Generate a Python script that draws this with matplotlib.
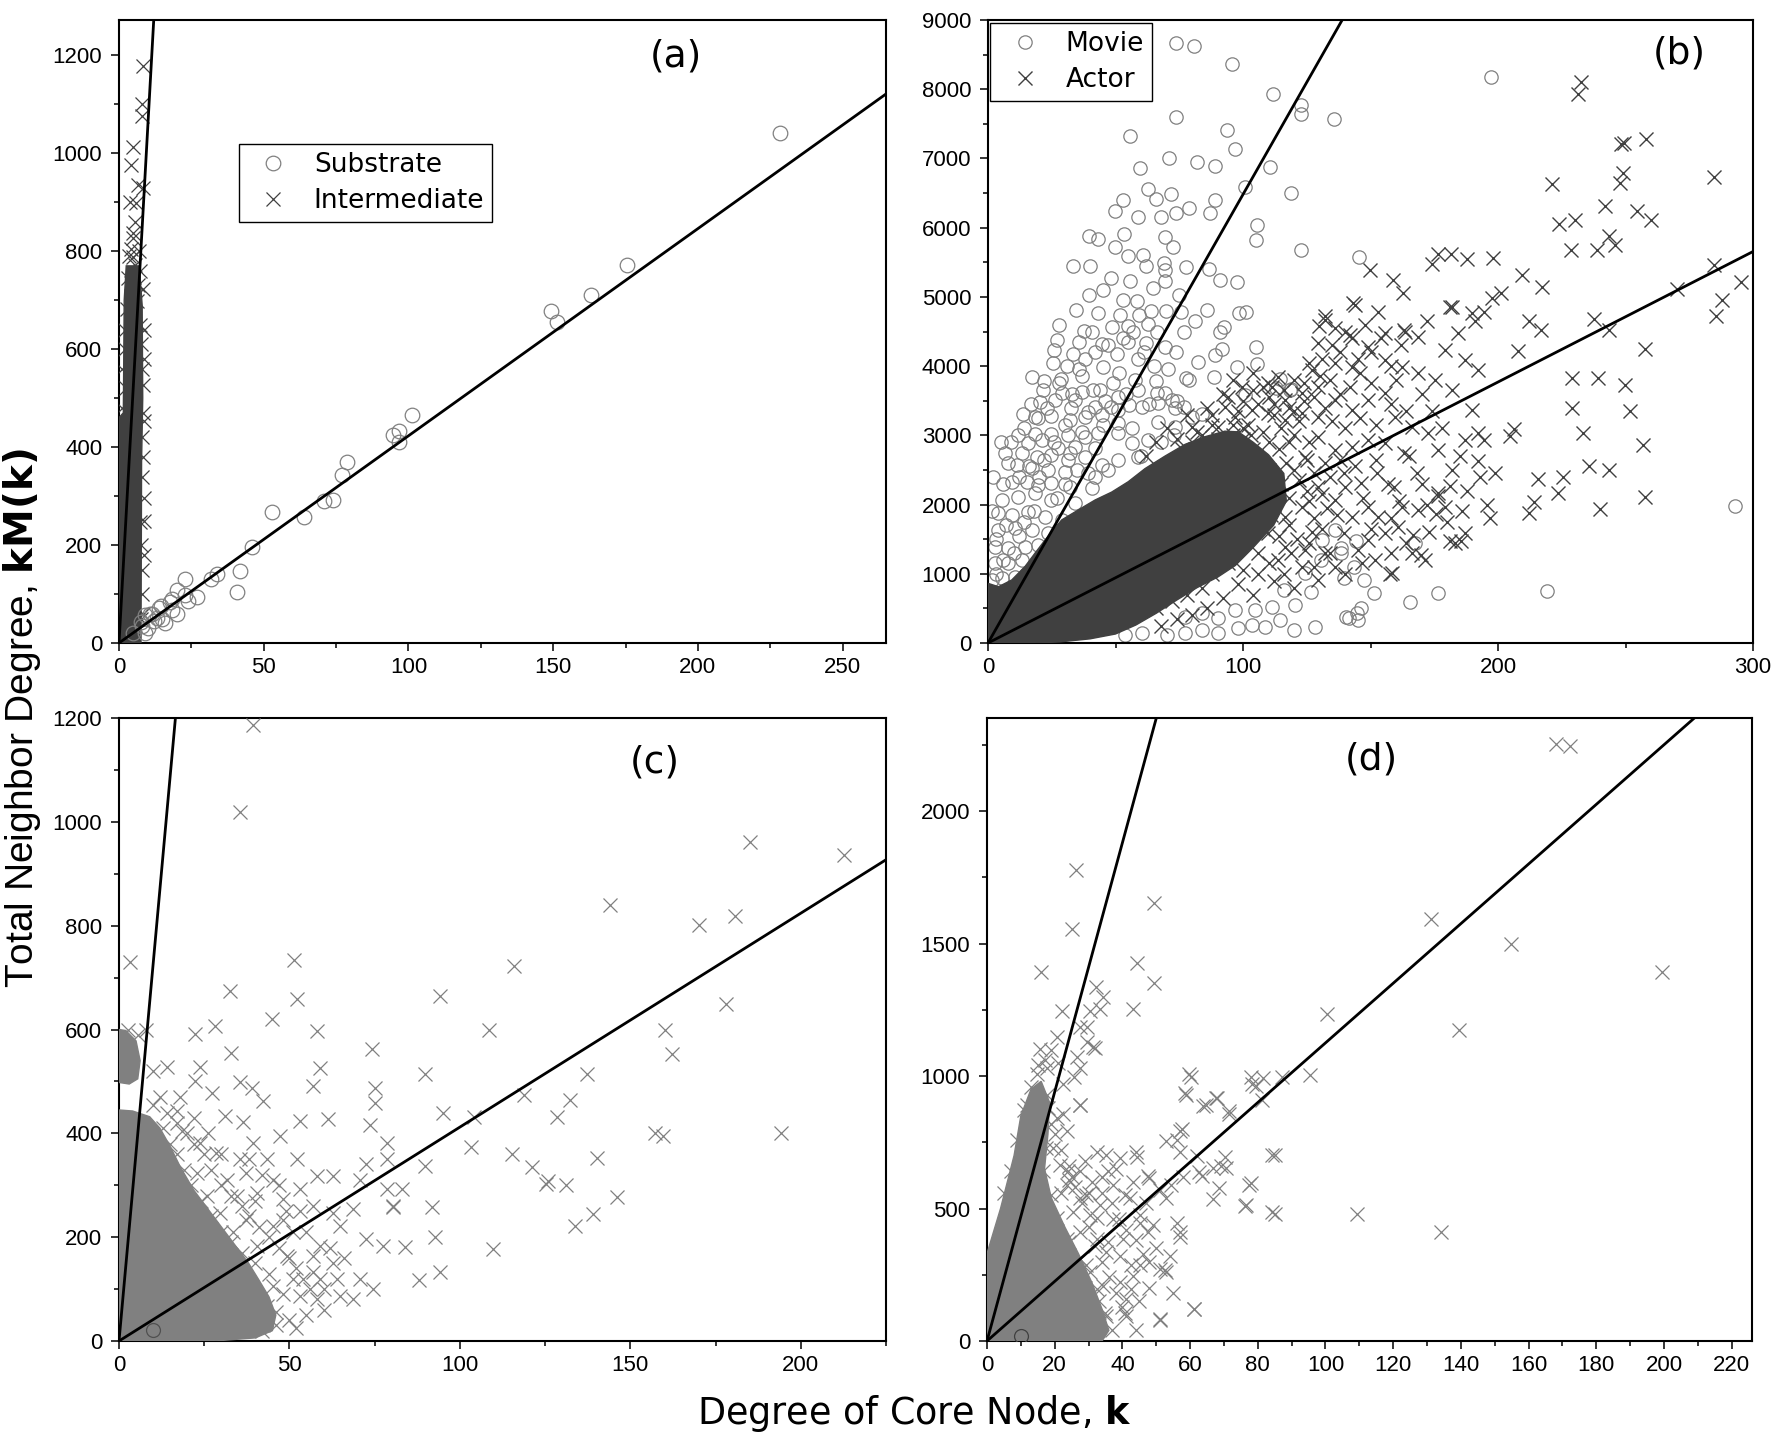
import numpy as np
import matplotlib
matplotlib.use("Agg")
import matplotlib.pyplot as plt
from matplotlib.ticker import MultipleLocator

plt.rcParams['font.family'] = ['Liberation Sans', 'DejaVu Sans']
plt.rcParams['mathtext.fontset'] = 'dejavusans'

# ------------------------------------------------------------------ data
# panel (a)
a_substrate = [(228.3, 1041), (175.5, 771), (163.2, 710), (149.4, 677), (151.4, 656), (101.4, 466),
               (96.8, 433), (94.5, 424), (96.8, 410), (78.7, 370), (76.9, 342), (74.1, 292), (70.9, 289),
               (64.0, 257), (53.0, 267), (45.8, 195), (41.9, 147), (40.9, 104), (33.8, 140), (31.8, 131),
               (22.9, 131), (26.9, 93), (22.7, 98), (18.4, 90), (17.6, 84), (14.4, 76), (11.5, 60),
               (8.9, 57), (7.5, 43), (9.1, 20), (18.4, 67), (5, 20), (8, 35), (12, 45), (15, 50), (20, 60),
               (24, 85), (10, 30), (13, 52), (16, 40), (20, 109), (13.7, 72), (10.8, 60)]
a_inter = [(8.3, 1178), (7.9, 1100), (7.9, 1077), (5.0, 1012), (4.1, 976), (6.7, 936), (8.3, 928),
           (5.8, 899), (4.8, 838), (4.7, 826), (4.1, 805), (4.8, 789), (5.6, 772), (7.3, 760), (6.2, 699),
           (8.3, 723), (2.9, 682), (7.3, 650), (8.3, 527), (8.5, 453), (7.9, 338), (7.3, 248), (8.5, 297),
           (1.5, 437), (0.9, 387), (0.6, 355), (0.6, 207), (3.2, 745), (4.2, 735), (5.2, 748), (6.4, 730),
           (7.6, 610), (8.0, 560), (7.9, 420), (8.2, 380), (7.6, 200), (7.8, 150), (8.1, 100), (7.5, 50),
           (1.0, 480), (2.0, 600), (2.4, 520), (3.6, 790), (6.9, 800), (5.4, 860), (3.8, 900), (2.2, 640),
           (8.6, 640), (8.8, 580), (8.4, 470), (8.7, 250), (8.6, 180), (8.4, 60), (1.2, 560), (0.5, 300)]
a_inter_core_k = [0.0, 0.0, 1.5, 1.8, 2.5, 7.0, 8.0, 8.2, 7.8, 7.6]
a_inter_core_km = [0, 460, 470, 700, 770, 770, 690, 500, 370, 0]
a_fit_slopes = [106.0, 4.23]

# panel (b)
b_movie = [(73.6, 8663), (80.9, 8629), (95.7, 8360), (111.9, 7932), (73.6, 7600), (122.9, 7772),
           (122.9, 7647), (135.8, 7575), (55.7, 7330), (93.9, 7407), (96.7, 7138), (70.9, 7012),
           (81.9, 6945), (88.9, 6897), (59.6, 6868), (110.7, 6882), (100.9, 6593), (118.8, 6506),
           (62.8, 6555), (65.9, 6416), (71.6, 6488), (52.8, 6401), (49.7, 6242), (58.7, 6160),
           (67.7, 6160), (73.6, 6208), (78.7, 6280), (86.9, 6208), (88.9, 6401), (39.7, 5880),
           (43.0, 5832), (49.7, 5726), (53.5, 5904), (69.4, 5870), (72.7, 5726), (105.6, 6039),
           (105.0, 5822), (122.8, 5678), (33.5, 5452), (39.9, 5452), (54.8, 5591), (60.7, 5606),
           (62.1, 5447), (69.0, 5486), (69.5, 5390), (69.5, 5231), (77.7, 5433), (86.8, 5409),
           (91.0, 5240), (97.6, 5216), (145.5, 5572), (48.1, 5274), (55.8, 5226), (64.6, 5130),
           (39.7, 5034), (45.2, 5106), (53.0, 4961), (58.3, 4937), (74.8, 5034), (34.6, 4817),
           (43.3, 4768), (51.8, 4744), (59.2, 4744), (63.8, 4793), (69.8, 4793), (75.8, 4783),
           (81.0, 4648), (85.8, 4817), (98.6, 4764), (101.3, 4783), (27.8, 4595), (37.5, 4514),
           (40.7, 4490), (48.5, 4562), (54.8, 4586), (62.9, 4610), (66.4, 4490), (77.0, 4490),
           (91.0, 4490), (92.7, 4562), (26.9, 4384), (35.8, 4355), (44.6, 4321), (55.0, 4345),
           (61.8, 4336), (69.5, 4273), (73.7, 4201), (105.0, 4283), (26.0, 4235), (33.5, 4177),
           (42.0, 4201), (50.6, 4177), (59.0, 4100), (82.5, 4061), (89.0, 4158), (91.6, 4245),
           (105.4, 4028), (97.6, 3980), (25.6, 4047), (17.1, 3840), (21.9, 3791), (28.5, 3815),
           (35.8, 3960), (45.2, 3984), (51.5, 3902), (57.7, 3806), (65.8, 3791), (70.6, 3960),
           (77.5, 3830), (78.8, 3801), (88.8, 3840), (114.5, 3815), (118.8, 3671), (13.6, 3310),
           (18.4, 3262), (24.8, 3286), (32.6, 3392), (39.4, 3335), (48.2, 3407), (55.2, 3431),
           (63.0, 3455), (69.4, 3614), (74.0, 3503), (83.8, 3310), (100.8, 3585), (11.9, 3000),
           (18.4, 3021), (24.8, 3021), (31.3, 3000),
           (21.7, 3655), (28.9, 3607), (36.7, 3631), (43.9, 3655), (51.1, 3559), (58.9, 3655),
           (66.1, 3607), (20.4, 3487), (26.3, 3511), (34.1, 3511), (41.9, 3415), (51.1, 3366),
           (60.3, 3415), (66.8, 3463), (73.3, 3391), (19.7, 3246), (32.2, 3222), (38.0, 3270),
           (44.6, 3294), (51.1, 3174), (56.3, 3102), (66.8, 3198), (73.3, 3126), (79.9, 3270),
           (38.0, 2981), (43.3, 3029), (51.1, 3029), (56.3, 2885), (62.8, 2933), (15.8, 2885),
           (21.0, 2933), (27.6, 2813), (34.1, 2837), (41.9, 2813), (6.7, 2740), (13.2, 2740),
           (19.1, 2692), (24.9, 2716), (31.5, 2644), (38.0, 2692), (44.6, 2571), (51.1, 2644),
           (58.9, 2692), (11.2, 2571), (17.1, 2523), (23.7, 2499), (30.2, 2475), (39.3, 2451),
           (47.2, 2499), (9.3, 2331), (15.2, 2331), (19.7, 2283), (24.9, 2307), (32.2, 2259),
           (40.7, 2235), (5.4, 2066), (11.9, 2114), (18.4, 2162), (24.9, 2066), (34.1, 2018),
           (4.1, 1874), (9.3, 1850), (15.8, 1898), (22.3, 1826), (28.9, 1778), (4.1, 1633),
           (10.6, 1657), (17.1, 1633), (23.7, 1585), (2.7, 1393), (8.0, 1368), (14.5, 1393),
           (19.7, 1417), (2.7, 1152), (8.0, 1152), (13.2, 1200), (1.4, 911), (5.4, 935),
           (10.6, 959), (1.4, 670), (0.7, 477), (72.0, 3511), (76.7, 3415), (68.0, 2900),
           (73.0, 3000), (60.0, 2700), (118.5, 3657), (112.9, 3690),
           (53.7, 116), (60.3, 140), (70.1, 116), (77.3, 140), (83.8, 188), (90.3, 140), (98.2, 212),
           (103.4, 260), (108.6, 236), (77.3, 381), (83.8, 429), (90.3, 357), (96.8, 477),
           (104.7, 477), (111.2, 525), (120.3, 549), (114.7, 333), (119.9, 188), (128.3, 236),
           (116.1, 765), (126.5, 741), (139.5, 934), (151.2, 717), (165.5, 597), (176.6, 717),
           (141.5, 357), (144.8, 429), (146.1, 501), (167.5, 1440), (130.6, 1200), (138.4, 1296),
           (143.6, 1104), (147.5, 911), (124.3, 1007), (130.9, 1489), (136.1, 1633), (197.3, 8170),
           (292.9, 1985), (219.4, 757), (145.0, 338), (140.5, 372), (144.5, 1480), (138.3, 1367),
           (3, 1000), (6, 1200), (10, 1300), (12, 1550), (7, 1700), (14, 1750), (18, 1900), (6, 2300),
           (12, 2400), (8, 2600), (16, 2550), (20, 2400), (22, 2650), (26, 2900), (30, 3150),
           (14, 3100), (9, 2900), (17, 3450), (23, 3400), (28, 3750), (33, 3600), (37, 3850),
           (41, 3650), (46, 3500), (49, 3750), (54, 3600), (31, 4000), (38, 4100), (47, 4300),
           (53, 4400), (57, 4500), (61, 4200), (65, 4000), (30, 2300), (35, 2500), (42, 2400),
           (27, 2100), (32, 2750), (37, 3050), (45, 3150), (29, 1650), (26, 1400), (20, 1150),
           (15, 1000), (9, 700), (4, 550), (3, 1500), (1.5, 1900), (2, 2400), (5, 2900)]
b_actor = [(232.7, 8104), (231.2, 7938), (248.3, 7208), (249.6, 7228), (257.9, 7274), (284.9, 6730),
           (221.2, 6630), (249.0, 6790), (247.9, 6644), (241.9, 6312), (254.6, 6245), (260.1, 6113),
           (224.1, 6046), (230.1, 6113), (228.5, 5681), (239.0, 5681), (243.4, 5880), (245.7, 5748),
           (217.4, 5150), (209.4, 5316), (198.2, 5562), (188.0, 5549), (181.7, 5615), (176.4, 5615),
           (174.2, 5482), (284.9, 5462), (295.3, 5217), (288.0, 4951), (285.6, 4719), (270.2, 5117),
           (237.6, 4686), (243.4, 4520), (257.5, 4254), (212.2, 4653), (216.7, 4520), (207.8, 4221),
           (197.8, 4984), (201.1, 5051), (194.4, 4785), (191.1, 4653), (181.1, 4852), (162.8, 5051),
           (158.8, 5250), (149.9, 5383), (143.2, 4918), (132.1, 4719), (129.8, 4586), (142.1, 4453),
           (163.3, 4520), (172.2, 4653), (229.0, 3823), (239.4, 3823), (249.7, 3723), (251.7, 3358),
           (229.2, 3391), (233.4, 3027), (235.6, 2562), (243.4, 2496), (256.8, 2861), (257.5, 2111),
           (240.1, 1931), (225.6, 2396), (215.6, 2363), (212.2, 1878), (214.0, 2031), (223.4, 2164),
           (195.5, 1998), (196.7, 1799), (206.2, 3093), (204.9, 2993), (192.2, 2628), (194.4, 2927),
           (198.9, 2462), (176.6, 2130), (181.1, 2263), (185.5, 1467), (181.1, 1467), (175.5, 1865),
           (169.9, 1268), (157.7, 1002), (166.6, 1566),
           (143.9, 4883), (153.0, 4787), (132.2, 4666), (136.1, 4546), (129.5, 4329), (142.6, 4402),
           (149.2, 4281), (155.7, 4474), (163.5, 4498), (168.8, 4426), (181.8, 4859), (184.4, 4474),
           (189.7, 4763), (179.2, 4233), (187.0, 4089), (192.3, 3944), (136.1, 4041), (142.6, 3992),
           (155.7, 4089), (162.2, 3992), (168.8, 3896), (175.3, 3800), (181.8, 3655), (189.7, 3366),
           (192.3, 3029), (187.0, 2933), (111.2, 3703), (116.4, 3511), (123.0, 3607), (129.5, 3703),
           (103.4, 3366), (109.9, 3318), (116.4, 3222), (123.0, 3318), (129.5, 3270), (136.1, 3511),
           (142.6, 3366), (149.2, 3511), (155.7, 3607), (159.6, 3270), (166.2, 3126), (172.7, 3029),
           (176.6, 2789), (163.0, 2740), (155.7, 2885), (149.2, 2933), (142.6, 2837), (136.1, 2789),
           (129.5, 2981), (124.3, 2692), (139.5, 2451), (146.1, 2307), (152.6, 2451), (159.1, 2259),
           (168.3, 2451), (176.6, 2162), (179.2, 1970), (168.8, 1922), (162.2, 1970), (153.0, 1826),
           (149.2, 1970), (142.6, 1826), (136.1, 2066), (129.5, 2259), (123.0, 1970), (116.4, 1826),
           (109.9, 1585), (116.4, 1393), (124.3, 1345), (132.2, 1296), (139.5, 1585), (149.2, 1489),
           (155.7, 1585), (151.8, 1200), (158.3, 1007), (160.9, 1681), (166.2, 1296), (183.1, 1441),
           (187.0, 1585), (171.4, 1200), (146.5, 1152), (136.1, 1104), (129.5, 911), (123.0, 1104),
           (113.9, 1200), (106.0, 1296), (96.9, 1874), (93.0, 2259), (90.3, 2644), (83.8, 2837),
           (79.9, 3126), (90.3, 3126), (96.9, 3270), (99.5, 3703), (93.0, 3415), (109.9, 3752),
           (113.9, 3848), (105, 2700), (110, 2500), (115, 2300), (120, 2500), (125, 2200), (112, 2000),
           (118, 1700), (127, 1600), (106, 2200), (114, 2800), (120, 3000), (126, 2900), (132, 2600),
           (134, 2400), (110, 2900), (103, 3000), (100, 3100), (118, 2100), (128, 1800), (121, 1500),
           (62, 2700), (66, 2900), (70, 3100), (74, 2950), (78, 3300), (82, 3050), (86, 3400),
           (88, 3150), (94, 3550), (98, 3350), (102, 3150), (106, 3450), (108, 3050), (112, 3300),
           (96, 3000), (92, 2850), (100, 2950), (104, 2800), (115, 3100), (118, 2900), (122, 3200),
           (125, 2650), (128, 2450), (131, 2150), (133, 1950), (126, 2050), (122, 2350), (117, 2600),
           (113, 2150), (111, 1850), (108, 1650), (114, 1550), (119, 1300), (126, 1450), (131, 1650),
           (137, 1850), (140, 2250), (138, 2650), (144, 2550), (147, 2100), (152, 2650), (157, 2300),
           (161, 2050), (165, 2700), (170, 2300), (158, 1800), (150, 1650), (145, 1350), (140, 1000),
           (134, 1300), (128, 1100), (120, 800), (112, 900), (104, 700), (98, 850), (92, 650),
           (86, 500), (80, 400), (74, 350), (68, 250), (66, 500), (72, 600), (78, 700), (84, 800),
           (88, 1000), (94, 1150), (100, 1050), (106, 1000), (110, 1150), (116, 1000), (118, 3400),
           (124, 3500), (130, 3850), (135, 3200), (140, 3100), (146, 3250), (152, 3150), (158, 3450),
           (164, 3350), (170, 3600), (160, 3800), (150, 3750), (145, 4100), (138, 4200), (126, 4050),
           (120, 3800), (110, 3550), (104, 3650), (174, 3350), (178, 3100), (185, 2700), (182, 2500),
           (188, 2200), (193, 2400), (186, 1900), (180, 1750), (173, 1600), (172, 2000), (164, 1450),
           (158, 1300),
           (88, 3300), (92, 3600), (96, 3800), (100, 3500), (104, 3900), (108, 3700), (112, 3450),
           (116, 3650), (120, 3350), (124, 3750), (128, 3550), (132, 3400), (127, 3950), (134, 3800),
           (138, 3600), (142, 3700), (146, 3900), (150, 4200), (154, 4400), (158, 4000), (162, 4300),
           (148, 4600), (140, 4500), (135, 4300), (131, 4100), (96, 3150), (90, 2950), (84, 3000),
           (80, 2900), (76, 2800)]
b_actor_core_k = [0, 0, 4.1, 9.3, 14.5, 18.4, 22.4, 28.9, 35.4, 42.0, 48.5, 55.0, 61.6, 69.4, 77.3,
                  85.1, 92.9, 98.2, 104.0, 110.0, 116.0, 117.0, 112.0, 104.0, 97.0, 90.0, 82.0,
                  74.0, 66.0, 58.0, 50.0, 40.0, 28.0, 18.4]
b_actor_core_km = [0, 862, 813, 910, 1104, 1296, 1489, 1778, 1922, 2066, 2180, 2330, 2520, 2700,
                   2870, 2980, 3060, 3050, 2900, 2720, 2450, 2050, 1700, 1380, 1120, 950, 800,
                   620, 430, 260, 130, 60, 15, 0]
b_fit_slopes = [64.8, 18.85]

# panel (c)
c_cross = [(32.6, 674), (52.1, 658), (45.0, 621), (58.0, 597), (28.2, 607), (22.3, 591), (33.0, 554),
           (74.1, 562), (58.9, 525), (23.8, 527), (14.0, 528), (22.3, 501), (35.5, 498), (38.9, 488),
           (57.0, 491), (75.1, 488), (75.1, 459), (27.2, 478), (42.3, 462), (16.9, 443), (31.1, 433),
           (36.5, 421), (53.1, 424), (61.4, 428), (73.6, 417), (18.4, 404), (23.8, 382), (39.4, 382),
           (47.2, 395), (78.5, 382), (28.6, 363), (35.5, 350), (43.3, 350), (52.1, 350), (58.0, 318),
           (72.6, 340), (78.5, 350), (22.8, 324), (31.6, 311), (37.4, 324), (45.3, 311), (53.1, 292),
           (62.9, 318), (70.7, 311), (78.5, 292), (25.7, 279), (34.5, 279), (40.4, 286), (48.2, 273),
           (57.0, 260), (62.9, 247), (68.7, 254), (80.4, 260), (29.6, 247), (37.4, 234), (45.3, 222),
           (51.1, 209), (58.9, 183), (64.8, 222), (72.6, 196), (77.5, 183), (33.5, 209), (40.4, 183),
           (49.2, 164), (57.0, 164), (62.9, 151), (70.7, 119), (74.6, 100), (64.8, 87), (57.0, 132),
           (51.1, 119), (45.3, 106), (40.4, 80), (36.5, 55), (43.3, 67), (53.1, 87), (68.7, 80),
           (58.9, 119), (48.2, 234), (2.5, 600), (5.5, 590), (8.0, 600), (10.0, 520),
           (39.2, 1186), (35.4, 1018), (3.2, 730), (51.3, 734), (94.1, 665), (116.0, 723), (144.1, 839),
           (170.0, 802), (180.8, 819), (185.0, 962), (212.6, 936), (178.0, 650), (160.1, 600),
           (162.1, 553), (194.1, 400), (157.1, 400), (159.6, 395), (108.4, 600), (89.9, 514),
           (94.9, 440), (137.2, 514), (132.3, 464), (128.6, 432), (118.7, 473), (104.2, 431),
           (103.2, 373), (115.3, 361), (121.2, 336), (125.9, 309), (125.2, 303), (131.1, 300),
           (140.1, 352), (146.1, 277), (139.1, 244), (133.9, 221), (109.8, 177), (83.0, 293),
           (89.9, 338), (80.5, 259), (91.8, 259), (92.8, 200), (83.8, 182), (88.0, 118), (94.1, 132),
           (12, 470), (10, 455), (14, 440), (17, 420), (20, 400), (22, 380), (25, 360), (27, 330),
           (30, 300), (33, 280), (36, 260), (38, 240), (41, 220), (44, 200), (47, 180), (50, 160),
           (52, 140), (54, 120), (56, 100), (58, 80), (60, 60), (55, 50), (50, 40), (46, 30), (42, 20),
           (48, 90), (44, 130), (40, 150), (36, 170), (33, 190), (30, 210), (27, 240), (24, 270),
           (21, 300), (19, 330), (17, 360), (15, 380), (13, 410), (28, 170), (31, 140), (35, 120),
           (39, 100), (42, 60), (46, 55), (52, 25), (60, 100), (64, 120), (62, 180), (66, 160),
           (55, 210), (53, 250), (49, 250), (47, 300), (42, 320), (38, 350), (30, 360), (26, 400),
           (22, 430), (18, 470), (40, 270)]
c_circle = [(10.0, 21)]
c_core_k = [0, 0, 4, 9, 12, 15, 18, 22, 26, 30, 34, 38, 41, 44, 46, 45, 40, 28]
c_core_km = [0, 445, 443, 432, 410, 375, 335, 290, 255, 220, 185, 150, 118, 85, 50, 20, 6, 0]
c_patch_k = [0, 2, 5, 6.2, 5.5, 3, 0]
c_patch_km = [600, 598, 578, 540, 505, 495, 498]
c_fit_slopes = [72.5, 4.12]

# panel (d)
d_cross = [(22.1, 1247), (30.4, 1247), (33.3, 1253), (43.1, 1253), (29.4, 1184), (31.4, 1108),
           (26.5, 1070), (20.6, 1146), (15.7, 1101), (17.6, 1032), (14.7, 1006), (27.5, 1032),
           (22.5, 968), (27.5, 892), (11.8, 892), (17.6, 930), (20.6, 842), (23.5, 791), (19.6, 728),
           (21.6, 665), (32.4, 715), (35.3, 703), (39.2, 690), (44.1, 715), (48.0, 614), (53.0, 753),
           (56.9, 791), (59.8, 1006), (58.8, 930), (64.7, 892), (67.6, 918), (71.6, 867), (78.4, 968),
           (81.4, 994), (56.9, 715), (62.7, 639), (66.7, 652), (70.6, 652), (68.6, 576), (77.5, 589),
           (76.5, 513), (84.3, 487), (84.3, 703), (52.9, 538), (56.9, 411), (49.0, 437), (45.1, 475),
           (42.2, 538), (37.3, 589), (33.3, 513), (30.4, 475), (27.5, 411), (32.4, 386), (37.3, 462),
           (40.2, 386), (45.1, 285), (51.0, 272), (52.9, 259), (35.3, 335), (30.4, 259), (34.3, 209),
           (39.2, 222), (41.2, 158), (41.2, 95), (35.3, 95), (51.0, 82), (61.3, 120), (43.1, 247),
           (27.5, 310), (23.5, 386), (25.5, 487), (27.5, 538), (23.5, 589),
           (76.2, 508), (77.9, 597), (66.9, 534), (63.6, 623), (69.0, 659), (70.3, 695), (57.7, 801),
           (56.0, 757), (54.3, 588), (51.0, 570), (47.6, 623), (44.2, 695), (35.8, 641), (40.9, 552),
           (45.1, 445), (47.6, 410), (52.6, 267), (51.0, 80), (56.0, 445), (56.9, 392), (42.6, 285),
           (42.6, 196), (40.9, 107), (35.0, 107), (32.5, 196), (29.1, 285), (24.1, 374), (20.7, 463),
           (19.0, 552), (16.5, 641), (17.3, 730), (19.0, 819), (22.4, 855), (20.7, 285), (17.3, 196),
           (25.7, 142), (19.0, 107), (29.1, 552), (32.5, 463), (35.8, 374), (39.2, 321), (27.4, 641),
           (24.1, 659), (24.1, 606), (20.7, 107), (14.0, 53), (24.1, 36), (60.2, 997), (58.5, 935),
           (63.9, 887), (67.8, 917), (71.5, 855), (77.9, 997), (79.6, 962), (81.2, 908), (85.1, 703),
           (85.1, 481), (27.4, 890), (25.7, 997), (29.6, 1127), (31.9, 1104), (27.4, 1184),
           (168.2, 2253), (172.1, 2244), (26.2, 1777), (49.3, 1651), (25.2, 1553), (131.2, 1594),
           (154.9, 1500), (199.3, 1393), (16.1, 1393), (44.2, 1428), (49.3, 1350), (32.1, 1336),
           (34.2, 1300), (100.3, 1234), (139.3, 1175), (87.1, 997), (95.5, 1003), (109.2, 481),
           (134.2, 413), (61.1, 119),
           (5, 560), (7, 640), (9, 760), (11, 870), (13, 960), (15, 1040), (17, 1060), (19, 1100),
           (21, 1050), (12, 700), (14, 800), (16, 900), (18, 880), (20, 780), (22, 720), (24, 640),
           (26, 580), (28, 520), (30, 430), (32, 360), (34, 300), (36, 240), (38, 180), (40, 130),
           (33, 150), (29, 200), (26, 260), (23, 330), (20, 400), (18, 470), (22, 560), (25, 620),
           (29, 680), (31, 600), (34, 560), (37, 520), (39, 460), (41, 420), (44, 380), (46, 330),
           (48, 300), (50, 350), (54, 320), (58, 620), (62, 700), (47, 520), (43, 600), (38, 650),
           (34, 620), (30, 560), (28, 170), (31, 90), (27, 60), (33, 60), (37, 40), (45, 150),
           (48, 200), (55, 180), (44, 40), (21, 130)]
d_circle = [(10.0, 19)]
d_core_k = [0, 0, 4, 8, 10, 13, 16, 18.5, 18, 17, 19, 23, 27, 31, 34, 36, 34]
d_core_km = [0, 330, 500, 700, 850, 950, 980, 900, 780, 650, 540, 430, 330, 220, 120, 40, 0]
d_fit_slopes = [47.0, 11.25]

# ------------------------------------------------------------------ style
DARK = '#404040'
GRAY = '#808080'
W, H = 1776, 1440

fig = plt.figure(figsize=(W / 100, H / 100), dpi=100)


def add_axes_px(left, top, right, bottom):
    return fig.add_axes([left / W, 1 - bottom / H, (right - left) / W, (bottom - top) / H])


def style(ax, xlim, ylim, xmaj, xmin, ymaj, ymin):
    ax.set_xlim(*xlim)
    ax.set_ylim(*ylim)
    ax.xaxis.set_major_locator(MultipleLocator(xmaj))
    ax.xaxis.set_minor_locator(MultipleLocator(xmin))
    ax.yaxis.set_major_locator(MultipleLocator(ymaj))
    ax.yaxis.set_minor_locator(MultipleLocator(ymin))
    ax.tick_params(which='both', direction='out', top=False, right=False, width=1.1, colors='black')
    ax.tick_params(which='major', length=6)
    ax.tick_params(which='minor', length=3.5)
    ax.tick_params(axis='both', labelsize=16)
    ax.tick_params(axis='x', pad=4)
    ax.tick_params(axis='y', pad=6)
    for s in ax.spines.values():
        s.set_linewidth(1.5)


def crosses(ax, pts, color, ms, z=3, label=None, mew=0.9):
    p = np.array(pts, dtype=float)
    return ax.plot(p[:, 0], p[:, 1], ls='none', marker='x', ms=ms, mew=mew, color=color,
                   zorder=z, label=label)[0]


def circles(ax, pts, color, ms, z=2, label=None):
    p = np.array(pts, dtype=float)
    return ax.plot(p[:, 0], p[:, 1], ls='none', marker='o', ms=ms, mew=0.9, mfc='none', mec=color,
                   zorder=z, label=label)[0]


def fit_lines(ax, slopes, kmax):
    kk = np.array([0.0, kmax])
    for s in slopes:
        ax.plot(kk, s * kk, color='black', lw=2.0, zorder=6, solid_capstyle='butt')


def panel_label(ax, txt, x, y):
    ax.text(x, y, txt, transform=ax.transAxes, ha='center', va='center', fontsize=27,
            family='DejaVu Sans', color='black')


leg_kw = dict(frameon=True, fancybox=False, edgecolor='black', framealpha=1, borderpad=0.3,
              handlelength=2.0, handletextpad=0.55, labelspacing=0.38, borderaxespad=0,
              prop={'family': 'DejaVu Sans', 'size': 19})

# ---- (a)
axA = add_axes_px(119, 20, 886, 643)
axA.fill(a_inter_core_k, a_inter_core_km, facecolor=DARK, edgecolor=DARK, lw=1, zorder=3)
hA2 = crosses(axA, a_inter, DARK, 10, z=3, label='Intermediate')
hA1 = circles(axA, a_substrate, GRAY, 10.5, z=4, label='Substrate')
fit_lines(axA, a_fit_slopes, 265)
style(axA, (0, 265), (0, 1272), 50, 25, 200, 100)
legA = axA.legend(handles=[hA1, hA2], loc='upper left', bbox_to_anchor=(0.156, 0.801), **leg_kw)
legA.get_frame().set_linewidth(1.0)
panel_label(axA, '(a)', 0.726, 0.941)

# ---- (b)
axB = add_axes_px(988, 20, 1753, 643)
hB1 = circles(axB, b_movie, GRAY, 9.6, z=2, label='Movie')
axB.fill(b_actor_core_k, b_actor_core_km, facecolor=DARK, edgecolor=DARK, lw=1, zorder=3)
hB2 = crosses(axB, b_actor, DARK, 10.5, z=3, label='Actor', mew=1.0)
fit_lines(axB, b_fit_slopes, 300)
style(axB, (0, 300), (0, 9000), 100, 50, 1000, 500)
legB = axB.legend(handles=[hB1, hB2], loc='upper left', bbox_to_anchor=(0.003, 0.995), **leg_kw)
legB.get_frame().set_linewidth(1.0)
panel_label(axB, '(b)', 0.903, 0.947)

# ---- (c)
axC = add_axes_px(119, 718, 886, 1341)
axC.fill(c_core_k, c_core_km, facecolor=GRAY, edgecolor=GRAY, lw=1, zorder=3)
axC.fill(c_patch_k, c_patch_km, facecolor=GRAY, edgecolor=GRAY, lw=1, zorder=3)
crosses(axC, c_cross, GRAY, 9.6, z=3)
circles(axC, c_circle, '#505050', 10, z=4)
fit_lines(axC, c_fit_slopes, 225)
style(axC, (0, 225), (0, 1200), 50, 25, 200, 100)
panel_label(axC, '(c)', 0.699, 0.929)

# ---- (d)
axD = add_axes_px(987, 718, 1752, 1341)
axD.fill(d_core_k, d_core_km, facecolor=GRAY, edgecolor=GRAY, lw=1, zorder=3)
crosses(axD, d_cross, GRAY, 9.6, z=3)
circles(axD, d_circle, '#404040', 10, z=4)
fit_lines(axD, d_fit_slopes, 226)
style(axD, (0, 226), (0, 2351), 20, 10, 500, 250)
panel_label(axD, '(d)', 0.502, 0.934)

# ---- shared axis labels
fig.text(0.0125, 0.501, 'Total Neighbor Degree, $\\mathbf{kM(k)}$', rotation=90, ha='center',
         va='center', fontsize=28, family='Liberation Sans')
fig.text(0.515, 0.0185, 'Degree of Core Node, $\\mathbf{k}$', ha='center', va='center',
         fontsize=26.3, family='DejaVu Sans')

fig.savefig('out.png', dpi=100)
